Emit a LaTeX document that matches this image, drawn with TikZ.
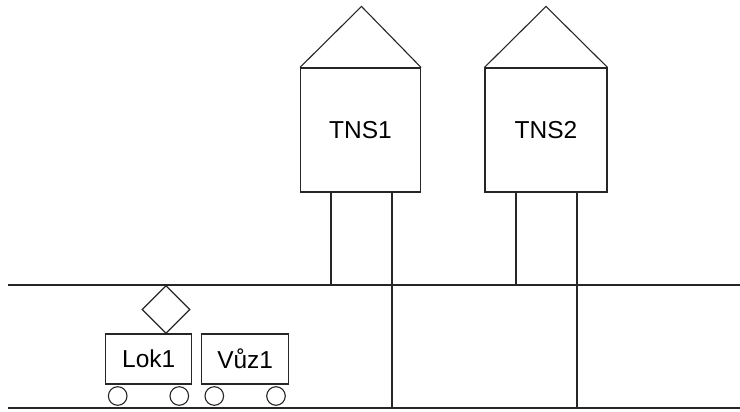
\documentclass[tikz,border=0pt]{standalone}
\usepackage{fontspec}
\setmainfont{Liberation Sans}
\usetikzlibrary{shapes.geometric,calc}
\begin{document}
\begin{tikzpicture}[x=1pt,y=-1pt,
  line/.style={draw=black!85,line width=1.1pt},
  station/.style={line,rectangle,minimum width=120pt,minimum height=124pt,inner sep=0pt,font=\fontsize{24.5}{28}\selectfont},
  wagon/.style={line,rectangle,minimum width=86pt,minimum height=50pt,inner sep=0pt,font=\fontsize{24.5}{28}\selectfont},
  wheel/.style={line,circle,minimum size=18.6pt,inner sep=0pt},
  panto/.style={line,diamond,minimum width=48pt,minimum height=48pt,inner sep=0pt}]
\useasboundingbox (0,0) rectangle (740,412);
% rails
\coordinate (railL) at (8,285);
\coordinate (railR) at (740,285);
\coordinate (gndL) at (8,408);
\coordinate (gndR) at (740,408);
\draw[line] (railL) -- (railR);
\draw[line] (gndL) -- (gndR);
% stations
\node[station] (tns1) at (360.5,130) {TNS1};
\node[station,minimum width=122pt] (tns2) at (546,130) {TNS2};
\coordinate (apex1) at ($(tns1.north)+(1,-61)$);
\coordinate (apex2) at ($(tns2.north)+(0,-61)$);
\draw[line,line join=miter] (tns1.north west) -- (apex1) -- (tns1.north east);
\draw[line,line join=miter] (tns2.north west) -- (apex2) -- (tns2.north east);
% legs
\draw[line] ([xshift=-29.5pt]tns1.south) -- ([xshift=-29.5pt]tns1.south |- railL);
\draw[line] ([xshift=31.5pt]tns1.south) -- ([xshift=31.5pt]tns1.south |- gndL);
\draw[line] ([xshift=-30pt]tns2.south) -- ([xshift=-30pt]tns2.south |- railL);
\draw[line] ([xshift=31pt]tns2.south) -- ([xshift=31pt]tns2.south |- gndL);
% train
\node[wagon] (lok) at (148.7,359) {Lok1};
\node[wagon,minimum width=87pt] (vuz) at (245.2,359) {Vůz1};
\node[panto] (pan) at (166,309.5) {};
\node[wheel] (w1) at (117.7,396) {};
\node[wheel] (w2) at (179.3,396) {};
\node[wheel] (w3) at (214.3,396) {};
\node[wheel] (w4) at (276,396) {};
\end{tikzpicture}
\end{document}
